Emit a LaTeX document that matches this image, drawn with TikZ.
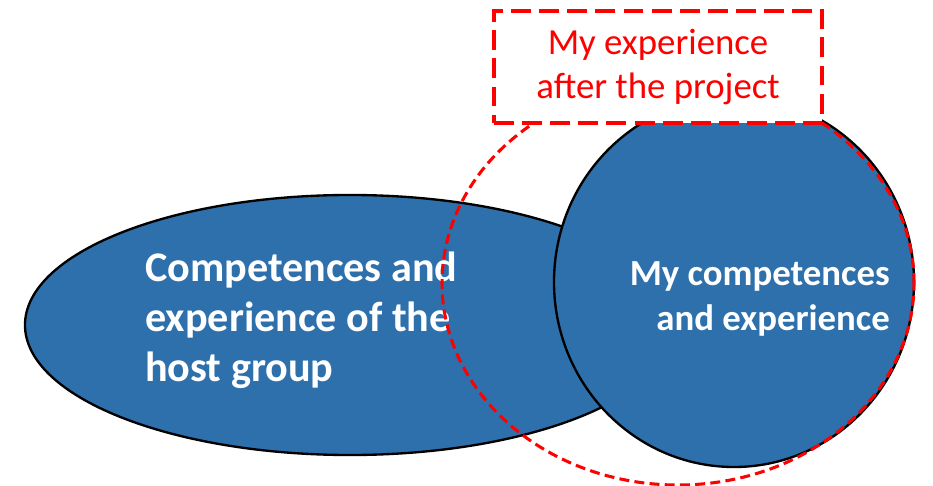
\documentclass[tikz,border=0pt]{standalone}
\usepackage{fontspec}
\setmainfont{Carlito}
\usetikzlibrary{shapes.geometric}
\definecolor{groupblue}{RGB}{46,112,172}
\definecolor{afterred}{RGB}{255,0,0}
\tikzset{
  blob/.style={draw=black, line width=2pt, fill=groupblue, inner sep=0pt},
  blobtext/.style={text=white, font=\bfseries\fontsize{31.4}{38.3}\selectfont, inner sep=0pt},
  afterline/.style={draw=afterred, line width=2.6pt, dash pattern=on 8.5pt off 4.5pt},
  afterbox/.style={draw=afterred, fill=white, line width=3.4pt, dash pattern=on 17pt off 7pt,
    text=afterred, align=center, font=\fontsize{31.4}{38.3}\selectfont, inner sep=0pt}
}
\begin{document}
\begin{tikzpicture}[x=0.03cm,y=-0.03cm]
  % keep the page at the size of the picture
  \useasboundingbox (0,0) rectangle (933,486);

  % the two blue shapes
  \node[blob, ellipse, minimum width=19.5cm, minimum height=7.8cm] (host) at (350,325) {};
  \node[blob, ellipse, minimum width=10.8cm, minimum height=11.1cm] (mine) at (734,282) {};

  % their texts
  \node[blobtext, align=left, anchor=west, font=\bfseries\fontsize{36}{42.5}\selectfont] (hosttext) at (145,320)
    {Competences and\\experience of the\\host group};
  \node[blobtext, align=right, anchor=east] (minetext) at (890,299)
    {My competences\\and experience};

  % dashed outline: after the project
  \node[afterline, ellipse, minimum width=14.16cm, minimum height=12.12cm, inner sep=0pt] (after) at (678,283) {};
  \node[afterbox, minimum width=9.84cm, minimum height=3.36cm] (afterlabel) at (658,67)
    {My experience\\after the project};
\end{tikzpicture}
\end{document}
